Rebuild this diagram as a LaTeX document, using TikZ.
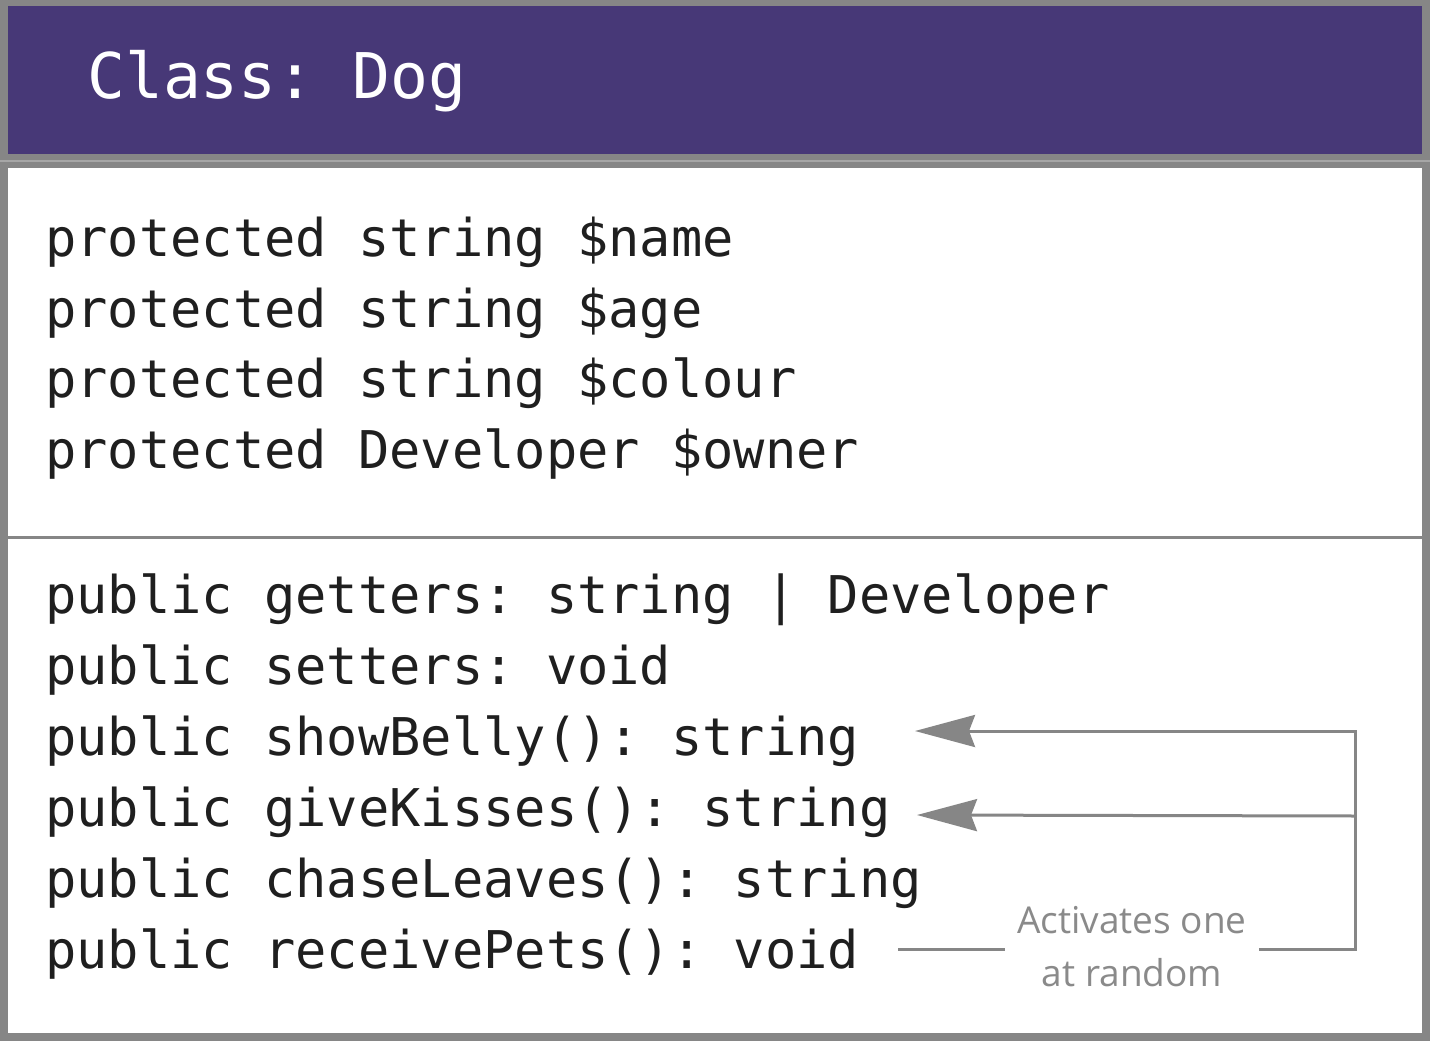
\documentclass[tikz,border=0pt]{standalone}
\usepackage{fontspec}
\setmonofont{DejaVu Sans Mono}
\newfontfamily\notefont{Open Sans}
\usetikzlibrary{arrows.meta}

\newlength{\du}
\setlength{\du}{1pt}

\definecolor{framegray}{rgb}{0.525000, 0.525000, 0.525000}
\definecolor{gapgray}{rgb}{0.650000, 0.650000, 0.650000}
\definecolor{headpurple}{rgb}{0.278000, 0.220000, 0.467000}
\definecolor{codeblack}{rgb}{0.120000, 0.120000, 0.120000}
\definecolor{notegray}{rgb}{0.540000, 0.540000, 0.540000}

\tikzset{
  headtext/.style={anchor=base west, inner sep=0pt, text=white,
    font=\fontsize{63}{70}\selectfont\ttfamily},
  codeline/.style={anchor=base west, inner sep=0pt, text=codeblack,
    font=\fontsize{52}{71}\selectfont\ttfamily},
  notetext/.style={align=center, inner xsep=12pt, inner ysep=0pt, text=notegray,
    font=\fontsize{37}{53}\selectfont\notefont},
  link/.style={draw=framegray, line width=3pt, line join=miter},
  linkarrow/.style={link, -{Stealth[length=60pt, width=32pt, inset=6pt]}},
}

\begin{document}
\begin{tikzpicture}
\pgftransformxscale{1.000000}
\pgftransformyscale{-1.000000}
\useasboundingbox (0\du,0\du) rectangle (1430\du,1041\du);
% outer frame
\fill[framegray] (0\du,0\du) rectangle (1430\du,1041\du);
% header
\fill[headpurple] (8\du,6\du) rectangle (1422\du,154\du);
\draw[gapgray, line width=1.5pt] (0\du,161\du) -- (1430\du,161\du);
\node[headtext] (title) at (87\du,99\du){Class: Dog};
% body
\fill[white] (8\du,168\du) rectangle (1422\du,1033\du);
\draw[framegray, line width=3pt] (8\du,537\du) -- (1422\du,537\du);
% attributes
\node[codeline] (name) at (45\du,256\du){protected string \$name};
\node[codeline] (age) at (45\du,327\du){protected string \$age};
\node[codeline] (colour) at (45\du,397\du){protected string \$colour};
\node[codeline] (owner) at (45\du,468\du){protected Developer \$owner};
% methods
\node[codeline] (getters) at (45\du,613\du){public getters: string | Developer};
\node[codeline] (setters) at (45\du,684\du){public setters: void};
\node[codeline] (belly) at (45\du,755\du){public showBelly(): string};
\node[codeline] (kisses) at (45\du,826\du){public giveKisses(): string};
\node[codeline] (leaves) at (45\du,897\du){public chaseLeaves(): string};
\node[codeline] (pets) at (45\du,968\du){public receivePets(): void};
% random activation
\node[notetext] (note) at (1132\du,947\du){Activates one\\at random};
\coordinate (petsend) at (898\du,949\du);
\coordinate (corner) at (1355\du,949\du);
\coordinate (top) at (1355\du,731\du);
\coordinate (mid) at (1355\du,816\du);
\coordinate (bellytip) at (915\du,731\du);
\coordinate (kissestip) at (917\du,815\du);
\draw[link] (petsend) -- (note.west |- petsend);
\draw[linkarrow] (note.east |- petsend) -- (corner) -- (top) -- (bellytip);
\draw[linkarrow] (mid) -- (kissestip);
\end{tikzpicture}
\end{document}
